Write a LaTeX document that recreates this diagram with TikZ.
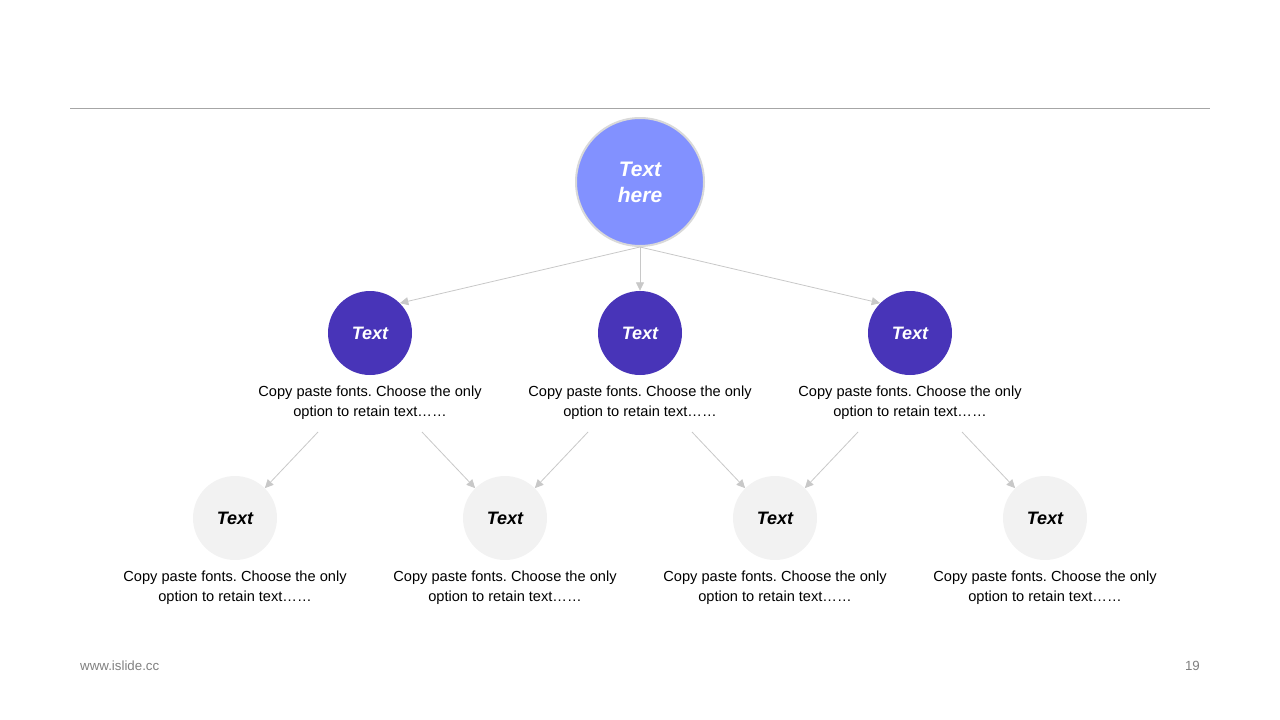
\documentclass[tikz,border=0pt]{standalone}
\usepackage{fontspec}
\setmainfont{Liberation Sans}
\frenchspacing
\usetikzlibrary{calc}
\usetikzlibrary{arrows.meta}
\definecolor{topblue}{HTML}{8291FF}
\definecolor{midpurple}{HTML}{4834B8}
\definecolor{lowgray}{HTML}{F2F2F2}
\definecolor{linegray}{HTML}{C8C8C8}
\tikzset{
	topstyle/.style={circle, draw=black!15, line width=2, fill=topblue, text=white, minimum size=128, inner sep=0, align=center, font=\fontsize{21}{26}\selectfont\bfseries\itshape},
	midstyle/.style={circle, draw=none, fill=midpurple, text=white, minimum size=84, inner sep=0, font=\fontsize{18}{22}\selectfont\bfseries\itshape},
	lowstyle/.style={circle, draw=none, fill=lowgray, text=black, minimum size=84, inner sep=0, font=\fontsize{18}{22}\selectfont\bfseries\itshape},
	capstyle/.style={align=center, inner sep=0, font=\fontsize{14.6}{20}\selectfont},
	footstyle/.style={inner sep=0, text=black!50, font=\fontsize{13.3}{15}\selectfont},
	linkstyle/.style={draw=linegray, line width=0.8, -{Triangle[length=8.5, width=8]}}
}

\begin{document}
\begin{tikzpicture}[x=1pt, y=-1pt]

\useasboundingbox (0, 0) rectangle (1280, 720);

\def\xdist{270}

\draw[black!35, line width=1] (70, 108) -- (1210, 108);

\node[topstyle] (top) at (640, 182) {Text\\here};

\node[midstyle] (m1) at (640 - \xdist, 333) {Text};
\node[midstyle] (m2) at (640, 333)          {Text};
\node[midstyle] (m3) at (640 + \xdist, 333) {Text};

\node[capstyle] (m1cap) at (640 - \xdist, 403) {Copy paste fonts. Choose the only\\option to retain text\ldots\ldots};
\node[capstyle] (m2cap) at (640, 403)          {Copy paste fonts. Choose the only\\option to retain text\ldots\ldots};
\node[capstyle] (m3cap) at (640 + \xdist, 403) {Copy paste fonts. Choose the only\\option to retain text\ldots\ldots};

\node[lowstyle] (b1) at (235, 518)  {Text};
\node[lowstyle] (b2) at (505, 518)  {Text};
\node[lowstyle] (b3) at (775, 518)  {Text};
\node[lowstyle] (b4) at (1045, 518) {Text};

\node[capstyle] (b1cap) at (235, 588)  {Copy paste fonts. Choose the only\\option to retain text\ldots\ldots};
\node[capstyle] (b2cap) at (505, 588)  {Copy paste fonts. Choose the only\\option to retain text\ldots\ldots};
\node[capstyle] (b3cap) at (775, 588)  {Copy paste fonts. Choose the only\\option to retain text\ldots\ldots};
\node[capstyle] (b4cap) at (1045, 588) {Copy paste fonts. Choose the only\\option to retain text\ldots\ldots};

\coordinate (s1) at (318, 432);
\coordinate (s2) at (422, 432);
\coordinate (s3) at (588, 432);
\coordinate (s4) at (692, 432);
\coordinate (s5) at (858, 432);
\coordinate (s6) at (962, 432);

\node[footstyle, anchor=west] (site) at (80, 666) {www.islide.cc};
\node[footstyle, anchor=east] (page) at (1200, 666) {19};

\draw[linkstyle] (top.south) -- (m1.north east);
\draw[linkstyle] (top.south) -- (m2.north);
\draw[linkstyle] (top.south) -- (m3.north west);

\draw[linkstyle] (s1) -- (b1.north east);
\draw[linkstyle] (s2) -- (b2.north west);
\draw[linkstyle] (s3) -- (b2.north east);
\draw[linkstyle] (s4) -- (b3.north west);
\draw[linkstyle] (s5) -- (b3.north east);
\draw[linkstyle] (s6) -- (b4.north west);
\end{tikzpicture}
\end{document}
